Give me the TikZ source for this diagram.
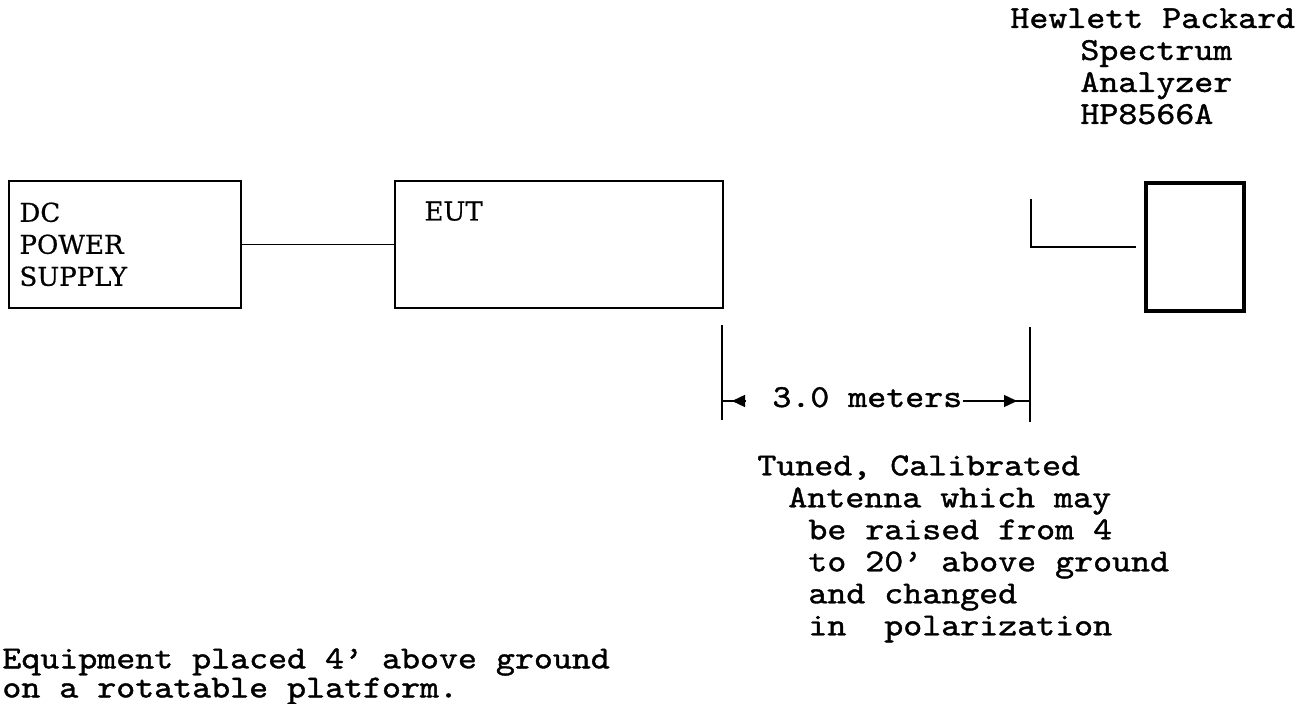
\documentclass[tikz,border=0pt]{standalone}
\usepackage{fontspec}
\setmainfont{DejaVu Serif}[FakeBold=0.6]
\setmonofont{lmmono10-regular.otf}[FakeStretch=1.13, FakeBold=1.2]
\usetikzlibrary{arrows.meta, positioning, calc}
\tikzset{
  unitbox/.style={draw, rectangle, line width=0.9pt, inner sep=0pt},
  boxlabel/.style={anchor=north west, inner sep=0pt, align=left,
                   font=\fontsize{13}{16}\selectfont},
  note/.style={anchor=north west, inner sep=0pt, align=left,
               font=\ttfamily\fontsize{16}{16}\selectfont},
  wire/.style={line width=0.7pt},
  extline/.style={line width=0.9pt},
  dimtip/.style={-{Triangle[length=6.5pt, width=6pt]}},
}

\begin{document}
\begin{tikzpicture}[x=0.5pt, y=-0.5pt]
    \useasboundingbox (0,0) rectangle (1300,704);
    \node[unitbox, minimum width=116pt, minimum height=63.5pt] (dc)  at (125,244.5) {};
    \node[unitbox, minimum width=164pt, minimum height=63.5pt] (eut) at (559,244.5) {};
    \node[unitbox, line width=1.6pt, minimum width=49pt, minimum height=64pt] (sa) at (1195,247) {};
    \node[boxlabel] (dclbl)  at ([shift={(11,22)}]dc.north west) {DC\\POWER\\SUPPLY};
    \node[boxlabel] (eutlbl) at ([shift={(30,21)}]eut.north west) {EUT};
    \draw[wire] (dc.east) -- (eut.west);
    \coordinate (ant) at (1031,199);
    \draw[extline] (ant) |- ([xshift=-4pt]sa.west);
    \node[note] (hp) at (1010,8) {Hewlett Packard\\
      \hspace*{35pt}Spectrum\\
      \hspace*{35pt}Analyzer\\
      \hspace*{35pt}HP8566A};
    \coordinate (ltop) at (722,325);
    \coordinate (lbot) at (722,420);
    \coordinate (rtop) at (1030,327);
    \coordinate (rbot) at (1030,422);
    \draw[extline] (ltop) -- (lbot);
    \draw[extline] (rtop) -- (rbot);
    \coordinate (lt) at (722,401);
    \coordinate (rt) at (1030,401);
    \coordinate (lbase) at (745,401);
    \node[note, anchor=base west] (dist) at (772,407) {3.0 meters};
    \draw[wire] (lbase) -- (lt);
    \draw[wire, dimtip, shorten >=5pt] (lbase) -- (lt);
    \draw[wire] (dist.east |- rt) -- (rt);
    \draw[wire, dimtip, shorten >=6.5pt] (dist.east |- rt) -- (rt);
    \node[note] (antlbl) at (757,455) {Tuned, Calibrated\\
      \hspace*{15.5pt}Antenna which may\\
      \hspace*{25.5pt}be raised from 4\\
      \hspace*{25.5pt}to 20’ above ground\\
      \hspace*{25.5pt}and changed\\
      \hspace*{25.5pt}in\ \ polarization};
    \node[note, font=\ttfamily\fontsize{16}{13.5}\selectfont] (platform) at (2,648)
      {Equipment placed 4’ above ground\\on a rotatable platform.};
\end{tikzpicture}
\end{document}
